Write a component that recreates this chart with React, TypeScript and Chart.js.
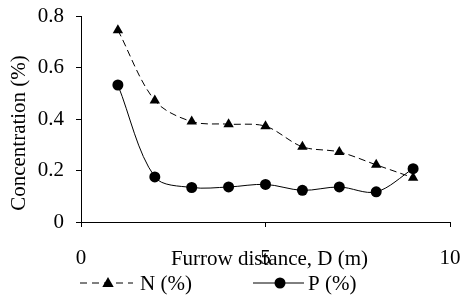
import React, { useEffect, useRef } from "react";
import { Chart, registerables } from "chart.js";

Chart.register(...registerables);

const distances = [1, 2, 3, 4, 5, 6, 7, 8, 9];
const nitrogen = [0.745, 0.472, 0.39, 0.38, 0.372, 0.292, 0.272, 0.222, 0.172];
const phosphorus = [0.532, 0.175, 0.134, 0.136, 0.146, 0.123, 0.136, 0.117, 0.207];
const seriesLabels = ["N (%)", "P (%)"];
const xTitle = "Furrow distance, D (m)";
const yTitle = "Concentration (%)";

const FONT = "'Liberation Serif', 'Times New Roman', serif";

const overlayPlugin = {
  id: "overlay",
  afterDraw(chart: any) {
    const ctx = chart.ctx;
    const area = chart.chartArea;
    ctx.save();
    ctx.fillStyle = "#000";
    ctx.strokeStyle = "#000";
    ctx.font = `21px ${FONT}`;
    ctx.textBaseline = "middle";
    // x title
    ctx.textAlign = "center";
    ctx.fillText(xTitle, (area.left + area.right) / 2 + 4, area.bottom + 37);
    // y title
    ctx.save();
    ctx.translate(19, (area.top + area.bottom) / 2 + 14);
    ctx.rotate(-Math.PI / 2);
    ctx.fillText(yTitle, 0, 0);
    ctx.restore();

    // legend
    const ly = area.bottom + 61;
    ctx.lineWidth = 1;
    // N
    ctx.setLineDash([7, 5]);
    ctx.beginPath();
    ctx.moveTo(80, ly);
    ctx.lineTo(133, ly);
    ctx.stroke();
    ctx.setLineDash([]);
    const tx = 108;
    const r = 6;
    ctx.beginPath();
    ctx.moveTo(tx, ly - r);
    ctx.lineTo(tx + r * 0.95, ly + r * 0.65);
    ctx.lineTo(tx - r * 0.95, ly + r * 0.65);
    ctx.closePath();
    ctx.fill();
    ctx.textAlign = "left";
    ctx.fillText(seriesLabels[0], 140, ly + 1);
    // P
    ctx.beginPath();
    ctx.moveTo(253, ly);
    ctx.lineTo(304, ly);
    ctx.stroke();
    ctx.beginPath();
    ctx.arc(280, ly, 5.5, 0, Math.PI * 2);
    ctx.fill();
    ctx.fillText(seriesLabels[1], 308, ly + 1);
    ctx.restore();
  },
};

export default function App() {
  const canvasRef = useRef<HTMLCanvasElement | null>(null);

  useEffect(() => {
    if (!canvasRef.current) return;
    const chart = new Chart(canvasRef.current, {
      type: "line",
      data: {
        labels: distances,
        datasets: [
          {
            label: seriesLabels[0],
            data: distances.map((d, i) => ({ x: d, y: nitrogen[i] })),
            borderColor: "#000",
            backgroundColor: "#000",
            borderWidth: 1,
            borderDash: [7, 4],
            pointStyle: "triangle",
            pointRadius: 6,
            pointBorderWidth: 0,
            tension: 0.33,
            fill: false,
          },
          {
            label: seriesLabels[1],
            data: distances.map((d, i) => ({ x: d, y: phosphorus[i] })),
            borderColor: "#000",
            backgroundColor: "#000",
            borderWidth: 1,
            pointStyle: "circle",
            pointRadius: 5.5,
            pointBorderWidth: 0,
            tension: 0.33,
            fill: false,
          },
        ],
      },
      options: {
        animation: false,
        responsive: false,
        layout: { padding: { left: 0, top: 16, right: 13, bottom: 0 } },
        plugins: {
          legend: { display: false },
          tooltip: { enabled: false },
        },
        scales: {
          x: {
            type: "linear",
            min: 0,
            max: 10,
            afterFit: (s: any) => {
              s.height = 76;
              s.paddingLeft = 0;
              s.paddingRight = 0;
            },
            ticks: {
              stepSize: 5,
              color: "#000",
              padding: 19,
              font: { family: FONT, size: 21 },
              maxRotation: 0,
            },
            grid: {
              display: true,
              drawOnChartArea: false,
              drawTicks: true,
              tickLength: 5,
              color: "#000",
            },
            border: { display: true, color: "#000", width: 1 },
          },
          y: {
            min: 0,
            max: 0.8,
            afterFit: (s: any) => {
              s.width = 81;
              s.paddingTop = 0;
              s.paddingBottom = 0;
            },
            ticks: {
              stepSize: 0.2,
              color: "#000",
              padding: 12,
              font: { family: FONT, size: 21 },
            },
            grid: {
              display: true,
              drawOnChartArea: false,
              drawTicks: true,
              tickLength: 5,
              color: "#000",
            },
            border: { display: true, color: "#000", width: 1 },
          },
        },
      },
      plugins: [overlayPlugin],
    });
    return () => chart.destroy();
  }, []);

  return (
    <div style={{ position: "absolute", left: 0, top: 0, width: 463, height: 298, background: "#fff" }}>
      <canvas ref={canvasRef} width={463} height={298} style={{ display: "block" }} />
    </div>
  );
}
